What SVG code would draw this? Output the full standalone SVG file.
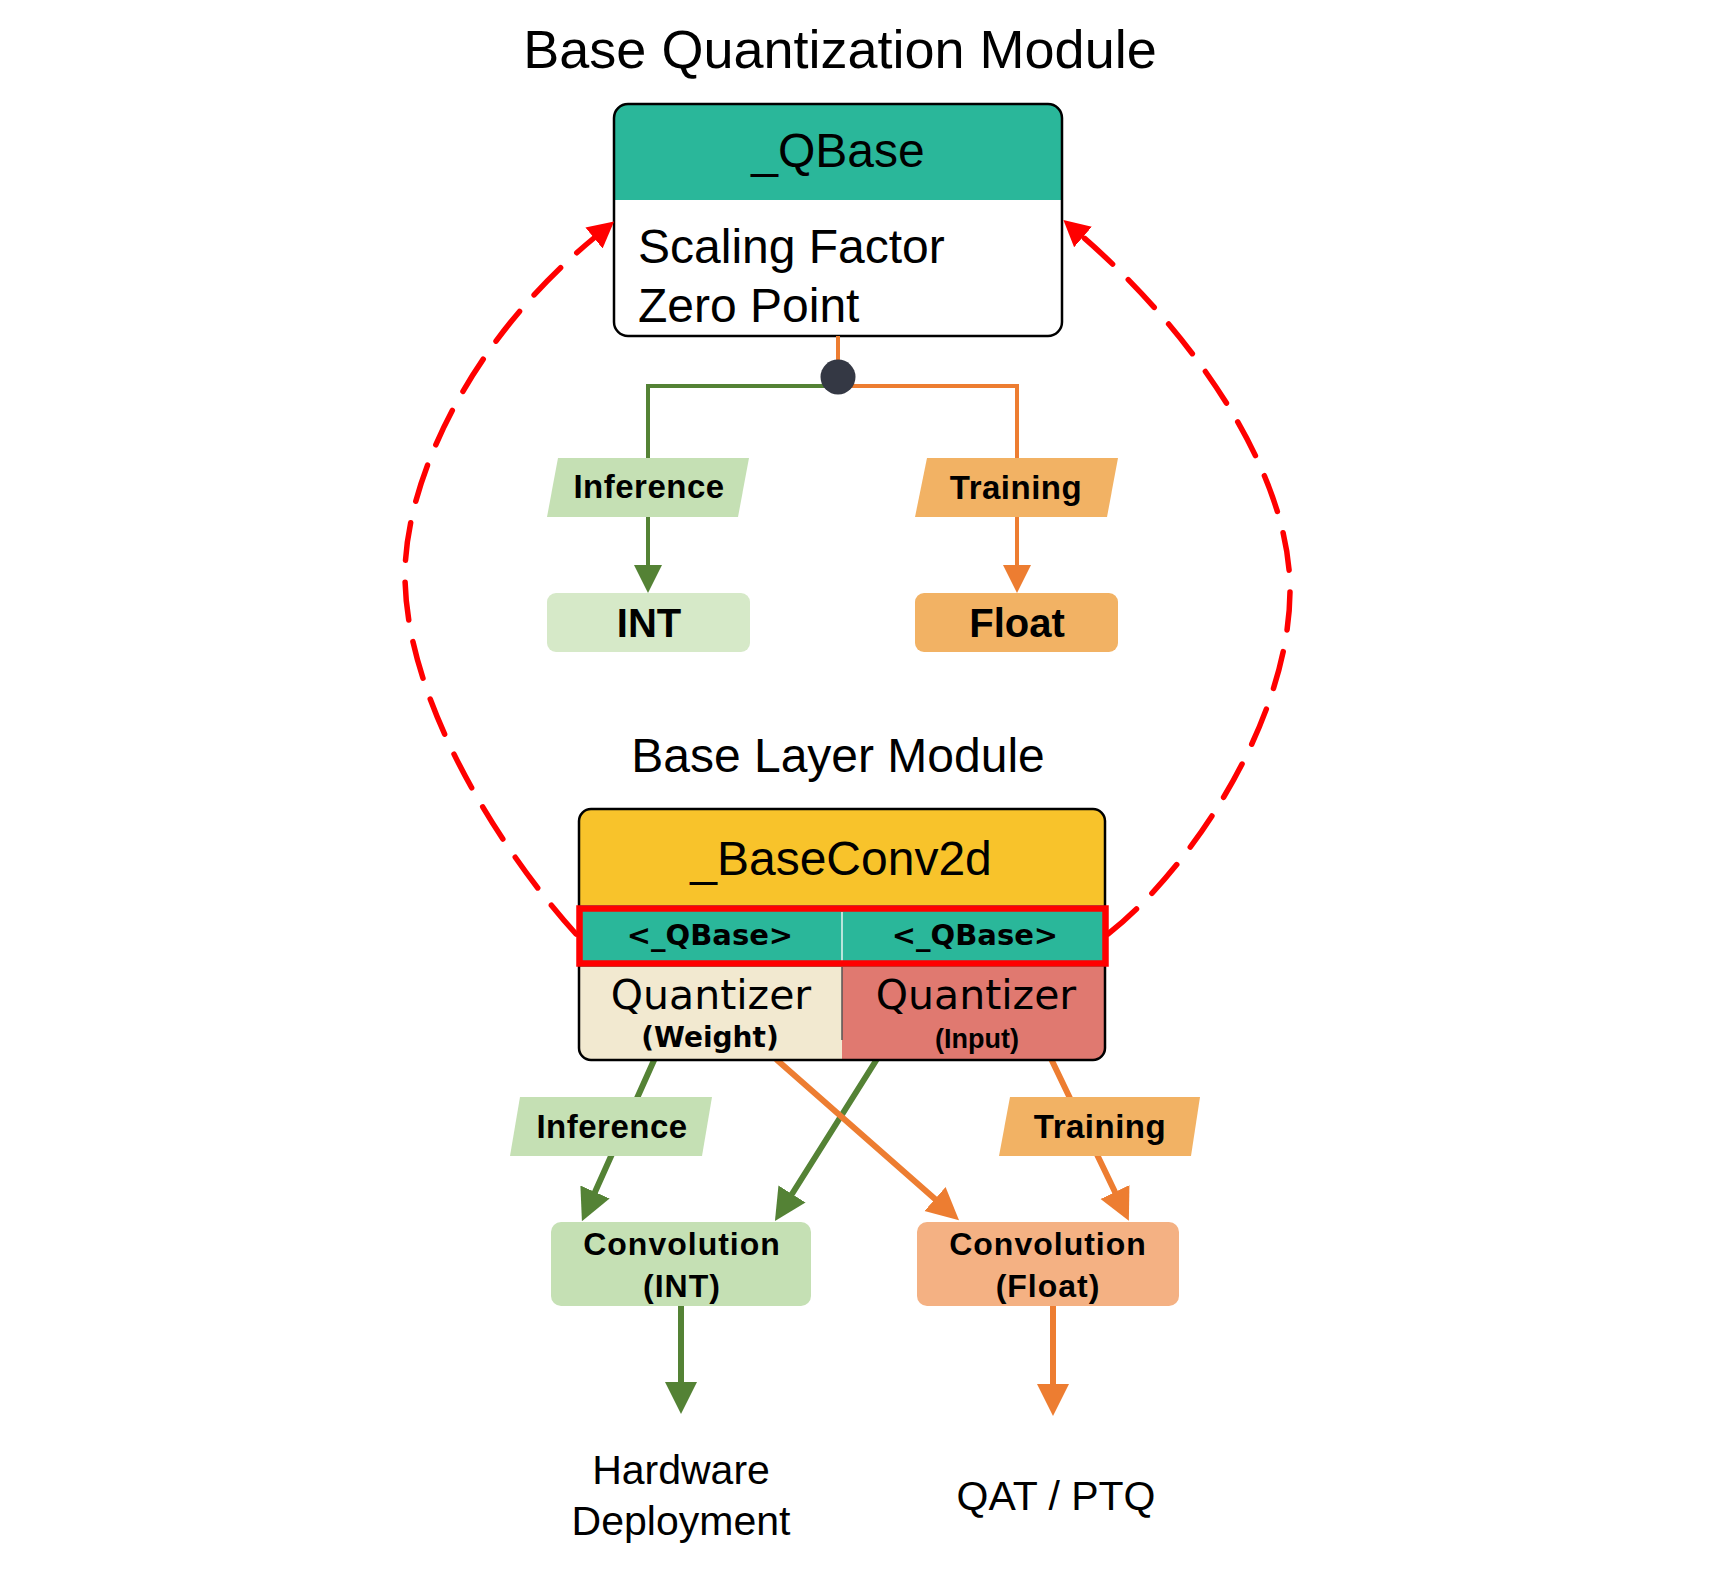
<svg xmlns="http://www.w3.org/2000/svg" width="1720" height="1574" viewBox="0 0 1720 1574">
<style>
.sans{font-family:"Liberation Sans",Arial,Helvetica,sans-serif;fill:#000}
.dv{font-family:"DejaVu Sans",Verdana,sans-serif;fill:#000}
.b{font-weight:bold}
.mid{text-anchor:middle}
.g{stroke:#548235;fill:none}
.o{stroke:#ED7D31;fill:none}
.red{stroke:#FF0000;fill:none;stroke-width:5.5;stroke-dasharray:38 22;stroke-linecap:round}
.outline{fill:none;stroke:#000;stroke-width:2.5}
</style>
<defs>
<marker id="ag" viewBox="0 -15 30 30" markerWidth="30" markerHeight="30" refX="0" refY="0" orient="auto" markerUnits="userSpaceOnUse"><path d="M0,-14 L28,0 L0,14 Z" fill="#548235"/></marker>
<marker id="ao" viewBox="0 -15 30 30" markerWidth="30" markerHeight="30" refX="0" refY="0" orient="auto" markerUnits="userSpaceOnUse"><path d="M0,-14 L28,0 L0,14 Z" fill="#ED7D31"/></marker>
<marker id="agL" viewBox="0 -17 34 34" markerWidth="34" markerHeight="34" refX="0" refY="0" orient="auto" markerUnits="userSpaceOnUse"><path d="M0,-16 L32,0 L0,16 Z" fill="#548235"/></marker>
<marker id="aoL" viewBox="0 -17 34 34" markerWidth="34" markerHeight="34" refX="0" refY="0" orient="auto" markerUnits="userSpaceOnUse"><path d="M0,-16 L32,0 L0,16 Z" fill="#ED7D31"/></marker>
<marker id="ar" viewBox="0 -15 30 30" markerWidth="30" markerHeight="30" refX="0" refY="0" orient="auto" markerUnits="userSpaceOnUse"><path d="M0,-13.5 L26,0 L0,13.5 Z" fill="#FF0000"/></marker>
</defs>
<rect width="1720" height="1574" fill="#fff"/>

<g id="title-quant"><text class="sans mid" x="840" y="68" font-size="54">Base Quantization Module</text></g>
<g id="title-layer"><text class="sans mid" x="838" y="772" font-size="48">Base Layer Module</text></g>

<g id="qbase">
<rect x="614" y="104" width="448" height="232" rx="14" fill="#fff"/>
<path d="M614,200 V118 Q614,104 628,104 H1048 Q1062,104 1062,118 V200 Z" fill="#2AB79A"/>
<rect x="614" y="104" width="448" height="232" rx="14" class="outline"/>
<text class="sans mid" x="838" y="167" font-size="48">_QBase</text>
<text class="sans" x="638" y="263" font-size="48">Scaling Factor</text>
<text class="sans" x="638" y="322" font-size="48">Zero Point</text>
</g>

<g id="connectors">
<path class="o" stroke-width="4" d="M838,336 V386 H1017 V565" marker-end="url(#ao)"/>
<path class="g" stroke-width="4" d="M838,386 H648 V565" marker-end="url(#ag)"/>
<path class="red" d="M576,934 C500,850 405,700 405,575 C405,480 470,340 594,238" marker-end="url(#ar)"/>
<path class="red" d="M1108,934 C1190,870 1290,720 1290,590 C1290,470 1190,330 1083,237" marker-end="url(#ar)"/>
<path class="g" stroke-width="6" stroke-linecap="round" d="M655,1058 L595,1192" marker-end="url(#agL)"/>
<path class="g" stroke-width="6" stroke-linecap="round" d="M877,1059 L792,1194" marker-end="url(#agL)"/>
<path class="o" stroke-width="6" stroke-linecap="round" d="M777,1060 L935,1199" marker-end="url(#aoL)"/>
<path class="o" stroke-width="6" stroke-linecap="round" d="M1043,1042 L1115,1192" marker-end="url(#aoL)"/>
<path class="g" stroke-width="6" d="M681,1304 V1382" marker-end="url(#agL)"/>
<path class="o" stroke-width="6" d="M1053,1304 V1384" marker-end="url(#aoL)"/>
<g id="label-inference-1">
<polygon points="558,458 749,458 738,517 547,517" fill="#C5E0B4"/>
<text class="sans b mid" x="649" y="498" font-size="33" letter-spacing="0.5">Inference</text>
</g>
<g id="label-training-1">
<polygon points="927,458 1118,458 1107,517 915,517" fill="#F2B264"/>
<text class="sans b mid" x="1016" y="499" font-size="33" letter-spacing="0.5">Training</text>
</g>
<g id="label-inference-2">
<polygon points="520,1097 712,1097 702,1156 510,1156" fill="#C5E0B4"/>
<text class="sans b mid" x="612" y="1138" font-size="33" letter-spacing="0.5">Inference</text>
</g>
<g id="label-training-2">
<polygon points="1010,1097 1200,1097 1191,1156 999,1156" fill="#F2B264"/>
<text class="sans b mid" x="1100" y="1138" font-size="33" letter-spacing="0.5">Training</text>
</g>
</g>

<circle id="junction" cx="838" cy="377" r="17.5" fill="#343844"/>

<g id="int">
<rect x="547" y="593" width="203" height="59" rx="9" fill="#D6E9C8"/>
<text class="sans b mid" x="649" y="637" font-size="40">INT</text>
</g>
<g id="float">
<rect x="915" y="593" width="203" height="59" rx="9" fill="#F2B264"/>
<text class="sans b mid" x="1017" y="637" font-size="40">Float</text>
</g>

<g id="baseconv2d">
<rect x="579" y="809" width="526" height="251" rx="12" fill="#F8C32B"/>
<rect x="579" y="905" width="526" height="62" fill="#2AB79A"/>
<path d="M579,967 H842 V1060 H591 Q579,1060 579,1048 Z" fill="#F2E9D0"/>
<path d="M842,967 H1105 V1048 Q1105,1060 1093,1060 H842 Z" fill="#E07970"/>
<line x1="842" y1="912" x2="842" y2="962" stroke="#e8f5f0" stroke-width="1.5"/>
<line x1="842" y1="967" x2="842" y2="1040" stroke="#555" stroke-width="1.5"/>
<rect x="579" y="809" width="526" height="251" rx="12" class="outline"/>
<rect x="579.5" y="908.5" width="526" height="55" fill="none" stroke="#FF0000" stroke-width="6.5"/>
<text class="sans mid" x="841" y="875" font-size="48">_BaseConv2d</text>
<text class="dv b mid" x="710" y="945" font-size="29">&lt;_QBase&gt;</text>
<text class="dv b mid" x="975" y="945" font-size="29">&lt;_QBase&gt;</text>
<text class="dv mid" x="711" y="1009" font-size="41">Quantizer</text>
<text class="dv mid" x="976" y="1009" font-size="41">Quantizer</text>
<text class="dv b mid" x="710" y="1047" font-size="28">(Weight)</text>
<text class="sans b mid" x="977" y="1048" font-size="27">(Input)</text>
</g>

<g id="conv-int">
<rect x="551" y="1222" width="260" height="84" rx="10" fill="#C5E0B4"/>
<text class="sans b mid" x="682" y="1255" font-size="32" letter-spacing="1">Convolution</text>
<text class="sans b mid" x="682" y="1297" font-size="32" letter-spacing="1">(INT)</text>
</g>
<g id="conv-float">
<rect x="917" y="1222" width="262" height="84" rx="10" fill="#F4B183"/>
<text class="sans b mid" x="1048" y="1255" font-size="32" letter-spacing="1">Convolution</text>
<text class="sans b mid" x="1048" y="1297" font-size="32" letter-spacing="1">(Float)</text>
</g>

<g id="hardware-deployment">
<text class="sans mid" x="681" y="1484" font-size="41">Hardware</text>
<text class="sans mid" x="681" y="1535" font-size="41">Deployment</text>
</g>
<g id="qat-ptq"><text class="sans mid" x="1056" y="1510" font-size="41">QAT / PTQ</text></g>
</svg>
